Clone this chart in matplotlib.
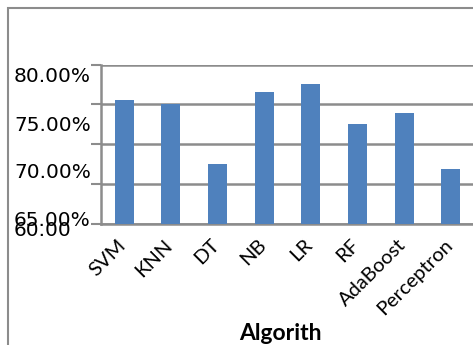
import numpy as np
import matplotlib.pyplot as plt
from matplotlib.patches import Rectangle
from matplotlib.transforms import ScaledTranslation

algorithms = ['SVM', 'KNN', 'DT', 'NB', 'LR', 'RF', 'AdaBoost', 'Perceptron']
accuracy = [75.5, 75.0, 67.5, 76.5, 77.5, 72.5, 73.9, 66.9]
grid_values = [60, 65, 70, 75, 80]
y_labels = ['80.00%', '75.00%', '70.00%', '65.00%', '60.00']

W, H = 473, 345
fig = plt.figure(figsize=(W / 100, H / 100), dpi=100)

# outer chart frame
fig.patches.append(Rectangle((8 / W, -0.05), 1.1, 1 - 7.5 / H + 0.05,
                             transform=fig.transFigure, fill=False,
                             edgecolor='#8c8c8c', linewidth=1.5))

ax = fig.add_axes([101 / W, 121 / H, 373 / W, (224 - 64.5) / H])
x = np.arange(len(algorithms))
ax.bar(x, accuracy, width=0.41, color='#4F81BD', zorder=3)
ax.set_xlim(-0.5, 7.5)
ax.set_ylim(60, 80)

ax.set_yticks(grid_values)
ax.set_yticklabels([])
ax.tick_params(axis='y', length=7, width=1.5, color='#8c8c8c')
ax.tick_params(axis='x', length=0, pad=6)
ax.grid(axis='y', color='#8c8c8c', linewidth=1.8, zorder=0)
for side in ['top', 'right']:
    ax.spines[side].set_visible(False)
for side in ['left', 'bottom']:
    ax.spines[side].set_color('#8c8c8c')
    ax.spines[side].set_linewidth(1.8)

ax.set_xticks(x)
ax.set_xticklabels(algorithms, rotation=45, ha='right', va='center',
                   rotation_mode='anchor', fontsize=14.5, family='Lato')
shift = ScaledTranslation(-0.01, -0.10, fig.dpi_scale_trans)
for lbl in ax.get_xticklabels():
    lbl.set_transform(lbl.get_transform() + shift)

# value axis labels
label_y = [76.5, 125, 173, 220, 231]
for text, py in zip(y_labels, label_y):
    fig.text(14 / W, 1 - py / H, text, ha='left', va='center',
             fontsize=14.5, family='DejaVu Sans')

fig.text(280 / W, 1 - 333 / H, 'Algorith', ha='center', va='center',
         fontsize=16.5, fontweight='bold', family='Lato')

fig.savefig('out.png', dpi=100, facecolor='white')
